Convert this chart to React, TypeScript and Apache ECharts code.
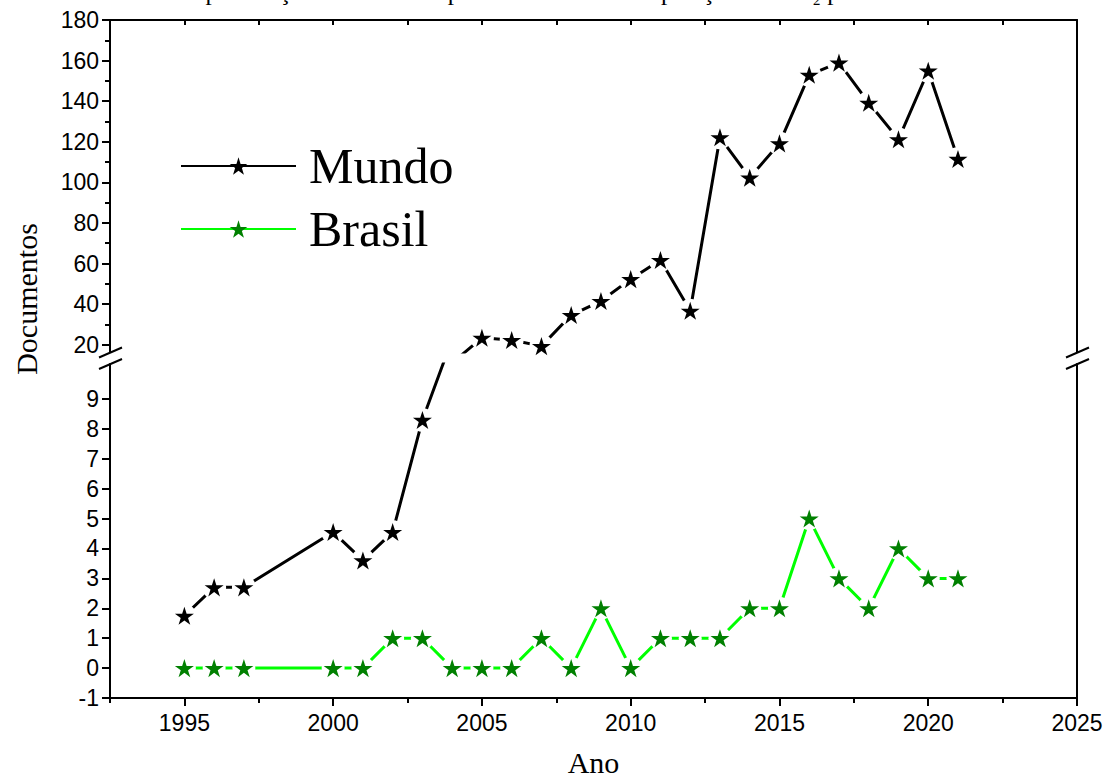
import React, { useEffect, useRef } from "react";
import * as echarts from "echarts";

// ---- data ----
const years = [1995, 1996, 1997, 2000, 2001, 2002, 2003, 2004, 2005, 2006, 2007, 2008, 2009, 2010, 2011, 2012, 2013, 2014, 2015, 2016, 2017, 2018, 2019, 2020, 2021];
const mundo = [1.75, 2.7, 2.7, 4.55, 3.6, 4.55, 8.3, 11, 23.4, 22.3, 19.3, 34.6, 41.5, 52.3, 61.7, 36.7, 122.2, 102.3, 119.2, 153, 159, 139.2, 121.2, 155, 111.5];
const brasil = [0, 0, 0, 0, 0, 1, 1, 0, 0, 0, 1, 0, 2, 0, 1, 1, 1, 2, 2, 5, 3, 2, 4, 3, 3];

const xMajorTicks = [1995, 2000, 2005, 2010, 2015, 2020, 2025];
const xMinorTicks = [1992.5, 1997.5, 2002.5, 2007.5, 2012.5, 2017.5, 2022.5];
const xTopTicks = [1995, 1997.5, 2000, 2002.5, 2005, 2007.5, 2010, 2012.5, 2015, 2017.5, 2020, 2022.5];
const upperYTicks = [20, 40, 60, 80, 100, 120, 140, 160, 180];
const upperYMinor = [30, 50, 70, 90, 110, 130, 150, 170];
const lowerYTicks = [-1, 0, 1, 2, 3, 4, 5, 6, 7, 8, 9];

const X_MIN = 1992.5;
const X_MAX = 2025;
const UP_MIN = 16.4;
const UP_MAX = 180;
const LOW_MIN = -1;
const LOW_MAX = 10.17;

const STAR =
  "path://M50,0 L61.2,34.5 L97.6,34.5 L68.2,55.9 L79.4,90.5 L50,69.1 L20.6,90.5 L31.8,55.9 L2.4,34.5 L38.8,34.5 Z";

const SANS = "Liberation Sans";
const SERIF = "Liberation Serif";

export default function App() {
  const ref = useRef<HTMLDivElement>(null);

  useEffect(() => {
    if (!ref.current) return;
    const chart = echarts.init(ref.current, undefined, { renderer: "svg" });

    const mundoPts = years.map((y, i) => [y, mundo[i]]);
    const brasilPts = years.map((y, i) => [y, brasil[i]]);

    const axisLine = { show: true, onZero: false, lineStyle: { color: "#000", width: 2 } };
    const noLine = { show: false, onZero: false };
    const tickLine = { color: "#000", width: 2 };
    const labelStyle = { color: "#000", fontFamily: SANS, fontSize: 23 };

    const slash = (x1: number, y1: number, x2: number, y2: number) => ({
      type: "line",
      shape: { x1, y1, x2, y2 },
      style: { stroke: "#000", lineWidth: 2 },
      z: 100,
    });

    const halo = (name: string, xi: number, yi: number, data: number[][], size: number) => ({
      name, type: "scatter", xAxisIndex: xi, yAxisIndex: yi, data,
      symbol: "circle", symbolSize: size, clip: true, z: 3, silent: true,
      itemStyle: { color: "#fff", opacity: 1 },
    });
    const stars = (name: string, xi: number, yi: number, data: number[][], color: string) => ({
      name, type: "scatter", xAxisIndex: xi, yAxisIndex: yi, data,
      symbol: STAR, symbolSize: 19, symbolKeepAspect: true, clip: true, z: 4, silent: true,
      itemStyle: { color, opacity: 1 },
    });

    const option: any = {
      animation: false,
      backgroundColor: "#fff",
      grid: [
        { left: 110, right: 36, top: 20, height: 332 },
        { left: 110, right: 36, top: 364, height: 334 },
      ],
      xAxis: [
        {
          gridIndex: 0, type: "value", position: "top", min: X_MIN, max: X_MAX,
          axisLine,
          axisTick: { show: true, inside: true, length: 5, lineStyle: tickLine, customValues: xTopTicks },
          axisLabel: { show: false },
          splitLine: { show: false },
        },
        {
          gridIndex: 1, type: "value", position: "bottom", min: X_MIN, max: X_MAX,
          axisLine,
          axisTick: { show: true, length: 8, lineStyle: tickLine, customValues: xMajorTicks },
          axisLabel: { ...labelStyle, margin: 13, customValues: xMajorTicks, formatter: (v: number) => String(v) },
          splitLine: { show: false },
          name: "Ano",
          nameLocation: "middle",
          nameGap: 49,
          nameTextStyle: { fontFamily: SERIF, fontSize: 30, color: "#000" },
        },
        {
          gridIndex: 1, type: "value", position: "bottom", min: X_MIN, max: X_MAX,
          axisLine: noLine,
          axisTick: { show: true, length: 5, lineStyle: tickLine, customValues: xMinorTicks },
          axisLabel: { show: false },
          splitLine: { show: false },
        },
      ],
      yAxis: [
        {
          gridIndex: 0, type: "value", position: "left", min: UP_MIN, max: UP_MAX,
          axisLine,
          axisTick: { show: true, length: 8, lineStyle: tickLine, customValues: upperYTicks },
          axisLabel: { ...labelStyle, margin: 11, customValues: upperYTicks },
          splitLine: { show: false },
        },
        {
          gridIndex: 0, type: "value", position: "left", min: UP_MIN, max: UP_MAX,
          axisLine: noLine,
          axisTick: { show: true, length: 5, lineStyle: tickLine, customValues: upperYMinor },
          axisLabel: { show: false },
          splitLine: { show: false },
        },
        {
          gridIndex: 0, type: "value", position: "right", min: UP_MIN, max: UP_MAX,
          axisLine,
          axisTick: { show: false },
          axisLabel: { show: false },
          splitLine: { show: false },
        },
        {
          gridIndex: 1, type: "value", position: "left", min: LOW_MIN, max: LOW_MAX,
          axisLine,
          axisTick: { show: true, length: 8, lineStyle: tickLine, customValues: lowerYTicks },
          axisLabel: { ...labelStyle, margin: 11, customValues: lowerYTicks },
          splitLine: { show: false },
        },
        {
          gridIndex: 1, type: "value", position: "right", min: LOW_MIN, max: LOW_MAX,
          axisLine,
          axisTick: { show: false },
          axisLabel: { show: false },
          splitLine: { show: false },
        },
      ],
      legend: {
        data: ["Mundo", "Brasil"],
        orient: "vertical",
        left: 180,
        top: 138,
        padding: 0,
        itemWidth: 115,
        itemHeight: 22,
        itemGap: 7,
        selectedMode: false,
        textStyle: { fontFamily: SERIF, fontSize: 50, color: "#000", lineHeight: 56, padding: [0, 0, 0, 8] },
      },
      series: [
        {
          name: "Mundo", type: "line", xAxisIndex: 0, yAxisIndex: 0, data: mundoPts,
          showSymbol: false, symbol: STAR, symbolSize: 19, clip: true, z: 2, silent: true,
          lineStyle: { color: "#000", width: 3 }, itemStyle: { color: "#000" },
        },
        {
          name: "Mundo", type: "line", xAxisIndex: 1, yAxisIndex: 3, data: mundoPts,
          showSymbol: false, symbol: STAR, symbolSize: 19, clip: true, z: 2, silent: true,
          lineStyle: { color: "#000", width: 3 }, itemStyle: { color: "#000" },
        },
        {
          name: "Brasil", type: "line", xAxisIndex: 1, yAxisIndex: 3, data: brasilPts,
          showSymbol: false, symbol: STAR, symbolSize: 19, clip: true, z: 2, silent: true,
          lineStyle: { color: "#00ff00", width: 3 }, itemStyle: { color: "#008000" },
        },
        halo("halo-m-up", 0, 0, mundoPts, 24),
        halo("halo-m-low", 1, 3, mundoPts, 24),
        halo("halo-b-low", 1, 3, brasilPts, 23),
        stars("star-m-up", 0, 0, mundoPts, "#000"),
        stars("star-m-low", 1, 3, mundoPts, "#000"),
        stars("star-b-low", 1, 3, brasilPts, "#008000"),
      ],
      graphic: [
        {
          type: "text",
          x: 589,
          y: -9,
          style: {
            text: "de publicações na base Scopus relacionadas à deposição de TiO₂ pela técnica ALD",
            font: `25px "${SERIF}"`,
            fill: "#000",
            textAlign: "center",
            textVerticalAlign: "middle",
          },
        },
        {
          type: "text",
          x: 26,
          y: 299,
          rotation: Math.PI / 2,
          style: {
            text: "Documentos",
            font: `30px "${SERIF}"`,
            fill: "#000",
            textAlign: "center",
            textVerticalAlign: "middle",
          },
        },
        slash(99, 357.5, 122, 347.5),
        slash(99, 369, 122, 359),
        slash(1066, 357.5, 1089, 347.5),
        slash(1066, 369, 1089, 359),
      ],
    };

    chart.setOption(option);
    return () => chart.dispose();
  }, []);

  return (
    <div
      ref={ref}
      style={{ position: "fixed", left: 0, top: 0, width: 1113, height: 778, background: "#fff" }}
    />
  );
}
